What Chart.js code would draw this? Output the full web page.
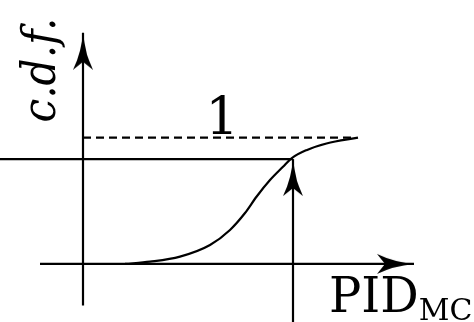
<!DOCTYPE html>
<html>
<head>
<meta charset="utf-8">
<script src="https://cdn.jsdelivr.net/npm/chart.js@4/dist/chart.umd.min.js"></script>
<style>
  html, body { margin: 0; padding: 0; background: #fff; }
  canvas { display: block; }
</style>
</head>
<body>
<canvas id="cdfChart" width="474" height="322"></canvas>
<script>
// cdf curve (x in arbitrary units, y = probability)
const curveX = [0.84, 1.34, 1.94, 2.54, 2.94, 3.24, 3.47, 3.74, 4.0, 4.17, 4.47, 4.87, 5.5];
const curveY = [0, 0.018, 0.058, 0.15, 0.269, 0.403, 0.532, 0.664, 0.769, 0.836, 0.901, 0.954, 1.0];

// axes and guide lines
const xAxisX = [-0.86, 6.62];
const yAxisY = [-0.33, 1.83];
const unityX = [0, 5.44];          // dashed line at cdf = 1
const cutLevel = 0.83;             // cdf value picked off
const cutX = 4.2;                  // PID_MC value of the cut
const viewX = [-1.66, 7.82];
const viewY = [-0.46, 2.09];

// arrow head drawn once, tip in the centre so it sits on the data point
function makeArrow() {
    const c = document.createElement('canvas');
    const len = 37, half = 10, notch = 8;
    c.width = len * 2;
    c.height = half * 2 + 2;
    const g = c.getContext('2d');
    const cy = c.height / 2;
    g.fillStyle = '#000';
    g.beginPath();
    g.moveTo(len, cy);
    g.quadraticCurveTo(len * 0.45, cy - 2, 0, cy - half);
    g.lineTo(notch, cy);
    g.lineTo(0, cy + half);
    g.quadraticCurveTo(len * 0.45, cy + 2, len, cy);
    g.closePath();
    g.fill();
    return c;
}
const arrow = makeArrow();

const line = (data, extra) => Object.assign({
    data: data, showLine: true, borderColor: '#000', borderWidth: 2.2,
    pointRadius: 0, fill: false, tension: 0
}, extra || {});

const labelsPlugin = {
    id: 'labels',
    afterDatasetsDraw(chart) {
        const { ctx, scales: { x, y } } = chart;
        ctx.save();
        ctx.fillStyle = '#000';
        ctx.textBaseline = 'alphabetic';

        // "1" above the dashed line
        ctx.font = '52px "DejaVu Serif"';
        ctx.textAlign = 'center';
        ctx.fillText('1', x.getPixelForValue(2.78), y.getPixelForValue(1.0) - 4);

        // PID_MC under the x axis
        ctx.textAlign = 'left';
        ctx.font = '48px "DejaVu Serif"';
        const px = x.getPixelForValue(4.92), py = y.getPixelForValue(0) + 48;
        ctx.fillText('PID', px, py);
        const w = ctx.measureText('PID').width;
        ctx.font = '30px "DejaVu Serif"';
        ctx.fillText('MC', px + w, py + 8);

        // c.d.f. along the y axis
        ctx.font = 'italic 47px "DejaVu Serif Condensed", "DejaVu Serif"';
        ctx.translate(x.getPixelForValue(0) - 28, y.getPixelForValue(1.12));
        ctx.rotate(-Math.PI / 2);
        ctx.fillText('c.d.f.', 0, 0);
        ctx.restore();
    }
};

new Chart(document.getElementById('cdfChart'), {
    type: 'scatter',
    data: {
        datasets: [
            line(curveX.map((v, i) => ({ x: v, y: curveY[i] })), { cubicInterpolationMode: 'monotone' }),
            line(xAxisX.map(v => ({ x: v, y: 0 }))),
            line(yAxisY.map(v => ({ x: 0, y: v }))),
            line(unityX.map(v => ({ x: v, y: 1 })), { borderDash: [8, 5] }),
            line([{ x: viewX[0], y: cutLevel }, { x: cutX, y: cutLevel }]),
            line([{ x: cutX, y: viewY[0] }, { x: cutX, y: cutLevel }]),
            {
                data: [
                    { x: xAxisX[1], y: 0 },
                    { x: 0, y: yAxisY[1] },
                    { x: cutX, y: cutLevel }
                ],
                showLine: false,
                pointStyle: arrow,
                rotation: [0, -90, -90],
                pointRadius: 10
            }
        ]
    },
    options: {
        responsive: false,
        animation: false,
        events: [],
        layout: { padding: 0, autoPadding: false },
        plugins: { legend: { display: false }, tooltip: { enabled: false } },
        scales: {
            x: { type: 'linear', display: false, min: viewX[0], max: viewX[1] },
            y: { type: 'linear', display: false, min: viewY[0], max: viewY[1] }
        }
    },
    plugins: [labelsPlugin]
});
</script>
</body>
</html>
